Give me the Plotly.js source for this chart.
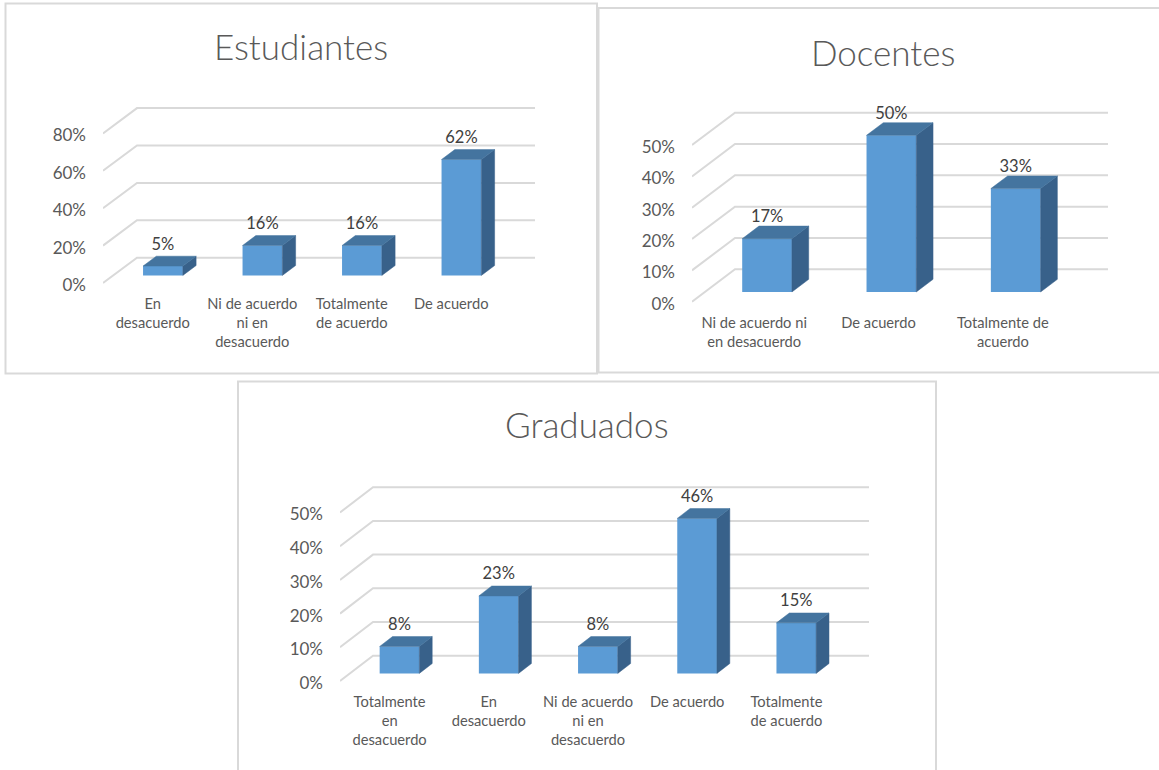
<!DOCTYPE html>
<html>
<head>
<meta charset="utf-8">
<script src="https://cdn.plot.ly/plotly-3.0.1.min.js"></script>
<style>html,body{margin:0;padding:0;background:#fff;overflow:hidden}#c{width:1159px;height:770px}</style>
</head>
<body>
<div id="c"></div>
<script>
// ---- data ----
const estudiantesCategories = ['En<br>desacuerdo', 'Ni de acuerdo<br>ni en<br>desacuerdo', 'Totalmente<br>de acuerdo', 'De acuerdo'];
const estudiantesValues = [5, 16, 16, 62];
const estudiantesTicks = [0, 20, 40, 60, 80];

const docentesCategories = ['Ni de acuerdo ni<br>en desacuerdo', 'De acuerdo', 'Totalmente de<br>acuerdo'];
const docentesValues = [17, 50, 33];
const docentesTicks = [0, 10, 20, 30, 40, 50];

const graduadosCategories = ['Totalmente<br>en<br>desacuerdo', 'En<br>desacuerdo', 'Ni de acuerdo<br>ni en<br>desacuerdo', 'De acuerdo', 'Totalmente<br>de acuerdo'];
const graduadosValues = [8, 23, 8, 46, 15];
const graduadosTicks = [0, 10, 20, 30, 40, 50];

// ---- geometry of each panel, in page pixels ----
const W = 1159, H = 770;
const panels = [
  {title:'Estudiantes', cats:estudiantesCategories, vals:estudiantesValues, ticks:estudiantesTicks,
   left:103, right:535, y0:283, pxPerUnit:1.87, dx:34, dy:25.3, axisBottom:293.5, top:95, titleX:301, titleY:46, labelPad:2.5},
  {title:'Docentes', cats:docentesCategories, vals:docentesValues, ticks:docentesTicks,
   left:692, right:1108, y0:301.7, pxPerUnit:3.133, dx:43, dy:32.4, axisBottom:312.5, top:100, titleX:883, titleY:52, labelPad:0},
  {title:'Graduados', cats:graduadosCategories, vals:graduadosValues, ticks:graduadosTicks,
   left:340, right:869, y0:681, pxPerUnit:3.37, dx:33, dy:25.3, axisBottom:691.5, top:475, titleX:587, titleY:423.5, labelPad:2.5}
];

const GRID = '#d9d9d9', FRONT = '#5b9bd5', TOP = '#44749f', SIDE = '#38618a';
const AXIS_TEXT = '#595959', LABEL_TEXT = '#404040';
const FONT = 'Lato, "Open Sans", sans-serif';
const GAP = 0.3, DEPTH = 0.39, BARW = 0.4;

const traces = [];
const layout = {
  width:W, height:H, margin:{l:0,r:0,t:0,b:0}, paper_bgcolor:'#fff', plot_bgcolor:'rgba(0,0,0,0)',
  showlegend:false, hovermode:false, barmode:'overlay', annotations:[],
  shapes:[
    {xref:'paper',yref:'paper',type:'rect',x0:5.5/W,x1:597/W,y0:1-373.5/H,y1:1-3.5/H,line:{color:GRID,width:2}},
    {xref:'paper',yref:'paper',type:'rect',x0:598.5/W,x1:1170/W,y0:1-372.5/H,y1:1-8/H,line:{color:GRID,width:2}},
    {xref:'paper',yref:'paper',type:'rect',x0:238/W,x1:936/W,y0:-0.02,y1:1-381.5/H,line:{color:GRID,width:2}}
  ]
};

panels.forEach((p, idx) => {
  const n = p.cats.length;
  const a = idx + 1, b = idx + 4;               // grid axes, bar axes on top of them
  const xa = a === 1 ? 'x' : 'x' + a, ya = a === 1 ? 'y' : 'y' + a;
  const xb = 'x' + b, yb = 'y' + b;
  const xKey = a === 1 ? 'xaxis' : 'xaxis' + a, yKey = a === 1 ? 'yaxis' : 'yaxis' + a;

  const band = (p.right - p.dx - p.left) / n;
  const dxU = p.dx / band, dyU = p.dy / p.pxPerUnit;
  const xRange = [-0.5, n - 0.5 + dxU];
  const yRange = [-(p.axisBottom - p.y0) / p.pxPerUnit, (p.y0 - p.top) / p.pxPerUnit];
  const xDomain = [p.left / W, p.right / W];
  const yDomain = [1 - p.axisBottom / H, 1 - p.top / H];

  layout[xKey] = {domain:xDomain, range:xRange, anchor:ya, fixedrange:true, showgrid:false, zeroline:false, showline:false,
    ticks:'', tickmode:'array', tickvals:p.cats.map((_, i) => i), ticktext:p.cats, tickangle:0,
    tickfont:{family:FONT, size:14.7, color:AXIS_TEXT}};
  layout[yKey] = {domain:yDomain, range:yRange, anchor:xa, fixedrange:true, showgrid:false, zeroline:false, showline:false,
    ticks:'', tickmode:'array', tickvals:p.ticks, ticktext:p.ticks.map(t => t + '%'), ticklabelstandoff:16, ticklabelshift:2,
    tickfont:{family:FONT, size:17, color:AXIS_TEXT}};
  layout['xaxis' + b] = {domain:xDomain, range:xRange, overlaying:xa, anchor:yb, visible:false, fixedrange:true};
  layout['yaxis' + b] = {domain:yDomain, range:yRange, overlaying:ya, anchor:xb, visible:false, fixedrange:true};

  // perspective grid: diagonal on the left wall + line along the back wall
  const gx = [], gy = [];
  p.ticks.forEach(t => {
    gx.push(xRange[0], xRange[0] + dxU, xRange[1], null);
    gy.push(t, t + dyU, t + dyU, null);
  });
  traces.push({type:'scatter', mode:'lines', x:gx, y:gy, xaxis:xa, yaxis:ya, line:{color:GRID, width:2}, hoverinfo:'skip', cliponaxis:false});

  const xc = p.vals.map((_, i) => i + GAP * dxU);
  const base = GAP * dyU;
  const dX = DEPTH * dxU, dY = DEPTH * dyU;

  // front faces
  traces.push({type:'bar', x:xc, y:p.vals, base:base, width:BARW, xaxis:xb, yaxis:yb,
    marker:{color:FRONT, line:{width:0}}, hoverinfo:'skip'});

  // top and side faces, from the same values
  const sx = [], sy = [], tx = [], ty = [];
  p.vals.forEach((v, i) => {
    const L = xc[i] - BARW / 2, R = xc[i] + BARW / 2, T = base + v;
    sx.push(R, R + dX, R + dX, R, R, null);
    sy.push(base, base + dY, T + dY, T, base, null);
    tx.push(L, R, R + dX, L + dX, L, null);
    ty.push(T, T, T + dY, T + dY, T, null);
  });
  traces.push({type:'scatter', mode:'lines', fill:'toself', x:sx, y:sy, xaxis:xb, yaxis:yb, fillcolor:SIDE, line:{color:SIDE, width:0.5}, hoverinfo:'skip'});
  traces.push({type:'scatter', mode:'lines', fill:'toself', x:tx, y:ty, xaxis:xb, yaxis:yb, fillcolor:TOP, line:{color:TOP, width:0.5}, hoverinfo:'skip'});

  // value labels
  traces.push({type:'scatter', mode:'text', x:xc, y:p.vals.map(v => base + v + dY + p.labelPad / p.pxPerUnit),
    text:p.vals.map(v => v + '%'), textposition:'top center', cliponaxis:false,
    textfont:{family:FONT, size:16.5, color:LABEL_TEXT}, xaxis:xb, yaxis:yb, hoverinfo:'skip'});

  layout.annotations.push({xref:'paper', yref:'paper', x:p.titleX / W, y:1 - p.titleY / H, text:p.title, showarrow:false,
    xanchor:'center', yanchor:'middle', font:{family:FONT, size:35, color:AXIS_TEXT, weight:300}});
});

Plotly.newPlot('c', traces, layout, {displayModeBar:false, staticPlot:true});
</script>
</body>
</html>
